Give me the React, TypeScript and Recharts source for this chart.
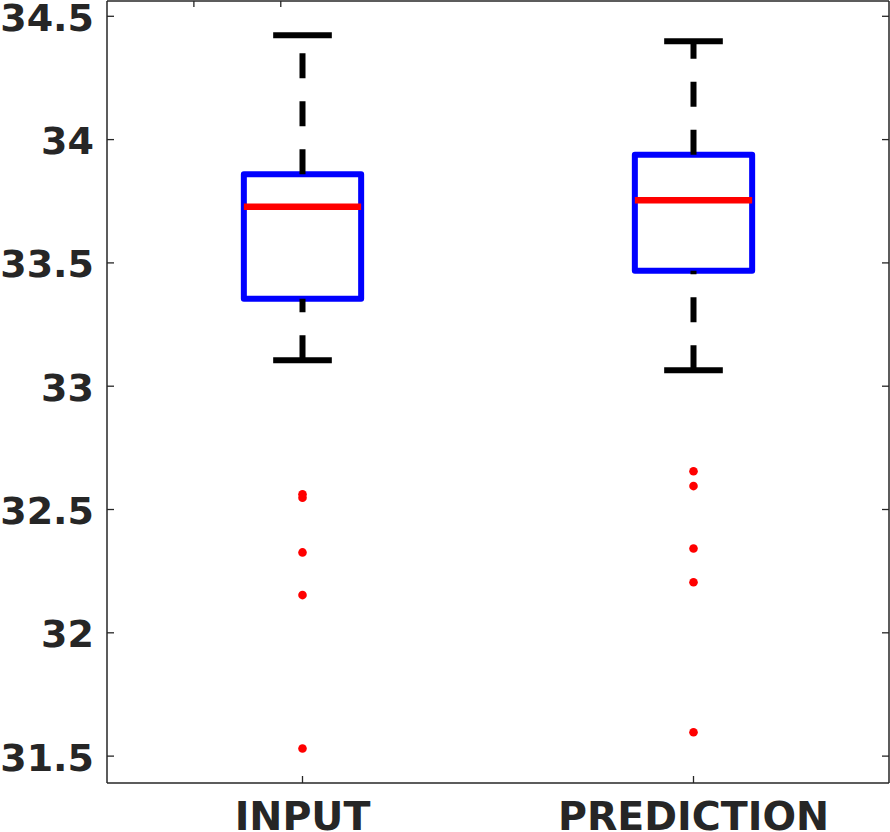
import React from 'react';
import { ComposedChart, XAxis, YAxis, Scatter, ReferenceLine, ReferenceArea } from 'recharts';

const categories = ['INPUT', 'PREDICTION'];
const positions = [1, 2];
const lowerWhisker = [33.105, 33.065];
const q1 = [33.355, 33.468];
const median = [33.728, 33.754];
const q3 = [33.859, 33.939];
const upperWhisker = [34.423, 34.399];
const inputOutliers = [32.562, 32.548, 32.326, 32.153, 31.531];
const predictionOutliers = [32.655, 32.595, 32.342, 32.205, 31.597];
const yTicks = [31.5, 32, 32.5, 33, 33.5, 34, 34.5];

const outlierData = [
  ...inputOutliers.map((v) => ({ x: positions[0], y: v })),
  ...predictionOutliers.map((v) => ({ x: positions[1], y: v })),
];

const AXIS = '#262626';
const FONT = '"DejaVu Sans", "Liberation Sans", sans-serif';
const X_DOMAIN: [number, number] = [0.5, 2.5];
const Y_DOMAIN: [number, number] = [31.391, 34.562];
const BOX_HALF = 0.15;
const CAP_HALF = 0.075;

const LeftTick = (p: any) => (
  <g>
    <line x1={p.x} x2={p.x + 7} y1={p.y} y2={p.y} stroke={AXIS} strokeWidth={1.3} />
    <text x={p.x - 13} y={p.y} dy={14.5} textAnchor="end" fontFamily={FONT} fontWeight="bold" fontSize={38} fill={AXIS}>
      {p.payload.value}
    </text>
  </g>
);

const RightTick = (p: any) => (
  <line x1={p.x - 7} x2={p.x} y1={p.y} y2={p.y} stroke={AXIS} strokeWidth={1.3} />
);

const BottomTick = (p: any) => (
  <g>
    <line x1={p.x} x2={p.x} y1={p.y - 7} y2={p.y} stroke={AXIS} strokeWidth={1.3} />
    <text x={p.x} y={p.y + 46.5} textAnchor="middle" fontFamily={FONT} fontWeight="bold" fontSize={39.5} fill={AXIS}>
      {categories[positions.indexOf(p.payload.value)]}
    </text>
  </g>
);

const TopTick = (p: any) => (
  <line x1={p.x} x2={p.x} y1={p.y} y2={p.y + 6} stroke={AXIS} strokeWidth={1.3} />
);

export default function App() {
  return (
    <div style={{ position: 'absolute', left: 0, top: 0, width: 890, height: 832, background: '#fff' }}>
      <ComposedChart width={890} height={832} margin={{ top: 0, right: 0, bottom: 0, left: 0 }} data={outlierData}>
        <XAxis
          xAxisId="b"
          type="number"
          dataKey="x"
          domain={X_DOMAIN}
          allowDataOverflow
          ticks={positions}
          interval={0}
          height={49}
          tickSize={0}
          tickMargin={0}
          tickLine={false}
          axisLine={{ stroke: AXIS, strokeWidth: 1.5 }}
          tick={<BottomTick />}
        />
        <XAxis
          xAxisId="t"
          orientation="top"
          type="number"
          domain={X_DOMAIN}
          allowDataOverflow
          ticks={positions}
          interval={0}
          height={1}
          tickSize={0}
          tickMargin={0}
          tickLine={false}
          axisLine={{ stroke: AXIS, strokeWidth: 1.5 }}
          tick={<TopTick />}
        />
        <YAxis
          yAxisId="l"
          type="number"
          dataKey="y"
          domain={Y_DOMAIN}
          allowDataOverflow
          ticks={yTicks}
          interval={0}
          width={107}
          tickSize={0}
          tickMargin={0}
          tickLine={false}
          axisLine={{ stroke: AXIS, strokeWidth: 1.5 }}
          tick={<LeftTick />}
        />
        <YAxis
          yAxisId="r"
          orientation="right"
          type="number"
          domain={Y_DOMAIN}
          allowDataOverflow
          ticks={yTicks}
          interval={0}
          width={1}
          tickSize={0}
          tickMargin={0}
          tickLine={false}
          axisLine={{ stroke: AXIS, strokeWidth: 1.5 }}
          tick={<RightTick />}
        />
        {positions.map((c, i) => (
          <ReferenceLine
            key={'lw' + i}
            xAxisId="b"
            yAxisId="l"
            segment={[{ x: c, y: lowerWhisker[i] }, { x: c, y: q1[i] }]}
            stroke="#000"
            strokeWidth={6}
            strokeDasharray="25 23"
            ifOverflow="visible"
          />
        ))}
        {positions.map((c, i) => (
          <ReferenceLine
            key={'uw' + i}
            xAxisId="b"
            yAxisId="l"
            segment={[{ x: c, y: q3[i] }, { x: c, y: upperWhisker[i] }]}
            stroke="#000"
            strokeWidth={6}
            strokeDasharray="25 23"
            ifOverflow="visible"
          />
        ))}
        {positions.map((c, i) => (
          <ReferenceLine
            key={'lc' + i}
            xAxisId="b"
            yAxisId="l"
            segment={[{ x: c - CAP_HALF, y: lowerWhisker[i] }, { x: c + CAP_HALF, y: lowerWhisker[i] }]}
            stroke="#000"
            strokeWidth={6}
            ifOverflow="visible"
          />
        ))}
        {positions.map((c, i) => (
          <ReferenceLine
            key={'uc' + i}
            xAxisId="b"
            yAxisId="l"
            segment={[{ x: c - CAP_HALF, y: upperWhisker[i] }, { x: c + CAP_HALF, y: upperWhisker[i] }]}
            stroke="#000"
            strokeWidth={6}
            ifOverflow="visible"
          />
        ))}
        {positions.map((c, i) => (
          <ReferenceArea
            key={'box' + i}
            xAxisId="b"
            yAxisId="l"
            x1={c - BOX_HALF}
            x2={c + BOX_HALF}
            y1={q1[i]}
            y2={q3[i]}
            fill="none"
            fillOpacity={0}
            stroke="#0000FF"
            strokeWidth={6}
            strokeLinejoin="round"
            ifOverflow="visible"
          />
        ))}
        {positions.map((c, i) => (
          <ReferenceLine
            key={'med' + i}
            xAxisId="b"
            yAxisId="l"
            segment={[{ x: c - BOX_HALF, y: median[i] }, { x: c + BOX_HALF, y: median[i] }]}
            stroke="#FF0000"
            strokeWidth={6.5}
            ifOverflow="visible"
          />
        ))}
        <Scatter
          xAxisId="b"
          yAxisId="l"
          dataKey="y"
          data={outlierData}
          isAnimationActive={false}
          shape={(p: any) => <circle cx={p.cx} cy={p.cy} r={4.3} fill="#FF0000" />}
        />
      </ComposedChart>
    </div>
  );
}
